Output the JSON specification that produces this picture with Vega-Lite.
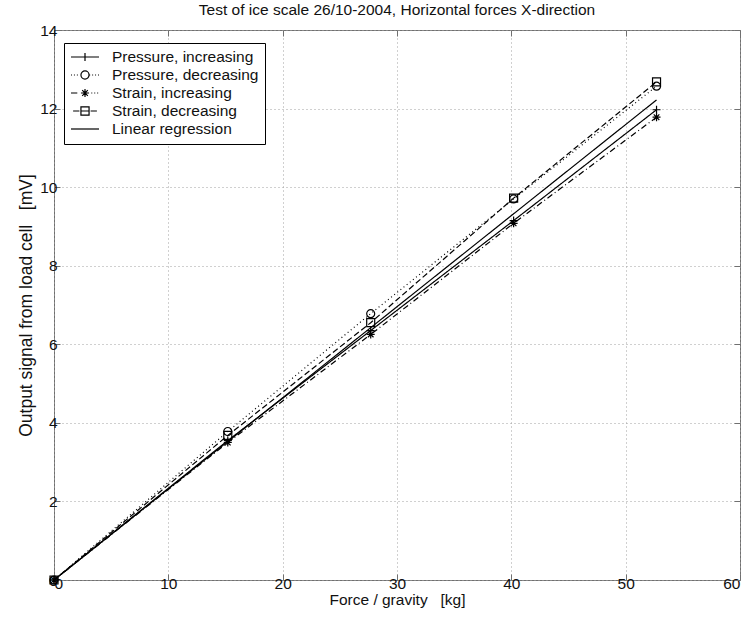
{
  "$schema": "https://vega.github.io/schema/vega-lite/v6.json",
  "width": 686,
  "height": 550,
  "autosize": "none",
  "padding": {"left": 54, "top": 30, "right": 14, "bottom": 44},
  "background": "white",
  "title": {"text": "Test of ice scale 26/10-2004, Horizontal forces X-direction", "fontSize": 15.5, "fontWeight": "normal", "font": "Liberation Sans", "color": "#111", "offset": 5, "anchor": "middle"},
  "config": {
    "font": "Liberation Sans",
    "view": {"stroke": "#707070", "strokeWidth": 1},
    "axis": {"domain": false, "grid": true, "gridDash": [1, 3], "gridColor": "#a0a0a0", "gridWidth": 1, "tickColor": "#707070", "tickSize": -6, "labelFontSize": 15.5, "labelColor": "#111", "labelFont": "Liberation Sans", "titleFont": "Liberation Sans", "titleFontSize": 15.5, "titleFontWeight": "normal", "titleColor": "#111"}
  },
  "datasets": {
    "pts": [
      {"series": "Pressure, increasing", "x": 0, "y": 0},
      {"series": "Pressure, increasing", "x": 15.2, "y": 3.55},
      {"series": "Pressure, increasing", "x": 27.7, "y": 6.35},
      {"series": "Pressure, increasing", "x": 40.2, "y": 9.15},
      {"series": "Pressure, increasing", "x": 52.7, "y": 11.97},
      {"series": "Pressure, decreasing", "x": 0, "y": 0},
      {"series": "Pressure, decreasing", "x": 15.2, "y": 3.78},
      {"series": "Pressure, decreasing", "x": 27.7, "y": 6.78},
      {"series": "Pressure, decreasing", "x": 40.2, "y": 9.7},
      {"series": "Pressure, decreasing", "x": 52.7, "y": 12.57},
      {"series": "Strain, increasing", "x": 0, "y": 0},
      {"series": "Strain, increasing", "x": 15.2, "y": 3.5},
      {"series": "Strain, increasing", "x": 27.7, "y": 6.25},
      {"series": "Strain, increasing", "x": 40.2, "y": 9.08},
      {"series": "Strain, increasing", "x": 52.7, "y": 11.78},
      {"series": "Strain, decreasing", "x": 0, "y": 0},
      {"series": "Strain, decreasing", "x": 15.2, "y": 3.68},
      {"series": "Strain, decreasing", "x": 27.7, "y": 6.55},
      {"series": "Strain, decreasing", "x": 40.2, "y": 9.72},
      {"series": "Strain, decreasing", "x": 52.7, "y": 12.68},
      {"series": "Linear regression", "x": 0, "y": 0},
      {"series": "Linear regression", "x": 52.7, "y": 12.22}
    ]
  },
  "data": {"name": "pts"},
  "layer": [
    {
      "mark": {"type": "line", "color": "black", "strokeWidth": 1.2},
      "encoding": {
        "x": {"field": "x", "type": "quantitative", "scale": {"domain": [0, 60], "nice": false, "zero": false},
              "axis": {"values": [0, 10, 20, 30, 40, 50, 60], "title": "Force / gravity \u00a0 [kg]", "labelPadding": 2, "titlePadding": 1}},
        "y": {"field": "y", "type": "quantitative", "scale": {"domain": [0, 14], "nice": false, "zero": false},
              "axis": {"values": [0, 2, 4, 6, 8, 10, 12, 14], "title": "Output signal from load cell \u00a0 [mV]", "titleFontSize": 17.5, "labelPadding": 3, "titlePadding": 4}},
        "strokeDash": {"field": "series", "type": "nominal",
              "scale": {"domain": ["Pressure, increasing", "Pressure, decreasing", "Strain, increasing", "Strain, decreasing", "Linear regression"],
                        "range": [[1, 0], [1, 3], [6, 3, 1, 3], [6, 3], [1, 0]]},
              "legend": null},
        "detail": {"field": "series"},
        "order": {"field": "x", "type": "quantitative"}
      }
    },
    {
      "transform": [{"filter": "datum.series != 'Linear regression'"}],
      "mark": {"type": "point", "filled": false, "color": "black", "size": 64, "strokeWidth": 1.2, "opacity": 1},
      "encoding": {
        "x": {"field": "x", "type": "quantitative", "axis": null},
        "y": {"field": "y", "type": "quantitative", "axis": null},
        "shape": {"field": "series", "type": "nominal",
              "scale": {"domain": ["Pressure, increasing", "Pressure, decreasing", "Strain, increasing", "Strain, decreasing"],
                        "range": ["M-1,0H1M0,-1V1", "circle", "M-1,0H1M0,-1V1M-0.7,-0.7L0.7,0.7M-0.7,0.7L0.7,-0.7", "square"]},
              "legend": null}
      }
    },
    {
      "transform": [{"filter": "datum.x < 0"}],
      "mark": {"type": "point", "filled": false, "color": "black", "strokeWidth": 1.2, "opacity": 1},
      "encoding": {
        "x": {"field": "x", "type": "quantitative", "axis": {"orient": "top", "labels": false, "title": null, "grid": false, "values": [0, 10, 20, 30, 40, 50, 60]}},
        "y": {"field": "y", "type": "quantitative", "axis": {"orient": "right", "labels": false, "title": null, "grid": false, "values": [0, 2, 4, 6, 8, 10, 12, 14]}},
        "shape": {"field": "series", "type": "nominal",
              "scale": {"domain": ["Pressure, increasing", "Pressure, decreasing", "Strain, increasing", "Strain, decreasing", "Linear regression"],
                        "range": [
                          "M-1,0H3M1,-0.58V0.58",
                          "M-1,0h0.14M-0.58,0h0.14M-0.16,0h0.14M1.6,0h0.14M2.02,0h0.14M2.44,0h0.14M2.86,0h0.14M1.58,0A0.58,0.58,0,1,1,0.42,0A0.58,0.58,0,1,1,1.58,0",
                          "M-1,0H-0.1M1.9,0h0.14M2.32,0h0.14M2.74,0h0.14M0.42,0H1.58M1,-0.58V0.58M0.6,-0.4L1.4,0.4M0.6,0.4L1.4,-0.4",
                          "M-0.7,0H0.2M0.42,-0.58H1.58V0.58H0.42ZM0.42,0H1.58M1.8,0H2.7",
                          "M-1,0H3"
                        ]},
              "legend": {"title": null, "orient": "none", "legendX": 10, "legendY": 13, "symbolSize": 196, "symbolStrokeWidth": 1.2, "symbolStrokeColor": "black", "symbolFillColor": "transparent", "symbolOpacity": 1, "labelFontSize": 15.5, "labelColor": "#111", "labelOffset": 26, "rowPadding": 1, "padding": 6, "strokeColor": "black", "fillColor": "white", "cornerRadius": 0}}
      }
    }
  ],
  "resolve": {"scale": {"shape": "independent"}, "axis": {"x": "independent", "y": "independent"}}
}
